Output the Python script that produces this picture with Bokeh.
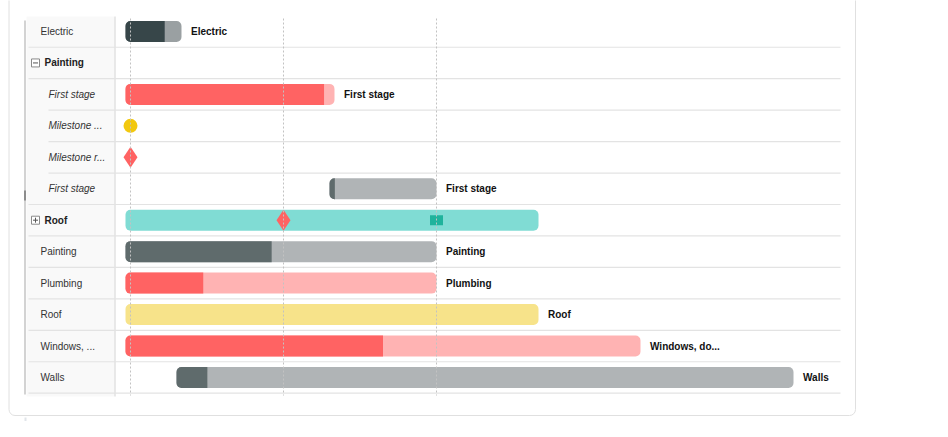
from bokeh.plotting import figure
from bokeh.models import Range1d, ColumnDataSource
from bokeh.core.properties import value
from bokeh.embed import file_html
from bokeh.resources import INLINE

# ---------------- data ----------------
row_names = ["Electric", "Painting", "First stage", "Milestone ...", "Milestone r...",
             "First stage", "Roof", "Painting", "Plumbing", "Roof", "Windows, ...", "Walls"]
row_kind = ["task", "group_open", "child", "child", "child", "child",
            "group_closed", "task", "task", "task", "task", "task"]

task_row = [0, 2, 5, 6, 7, 8, 9, 10, 11]
task_start = [0, 0, 4, 0, 0, 0, 0, 0, 1]
task_end = [1, 4, 6, 8, 6, 6, 8, 10, 13]
task_done = [0.70, 0.95, 0.05, 0.0, 0.47, 0.25, 0.0, 0.50, 0.05]
task_label = ["Electric", "First stage", "First stage", "", "Painting", "Plumbing",
              "Roof", "Windows, do...", "Walls"]
task_color = ["#9aa0a2", "#ffb3b3", "#b0b4b6", "#80dcd4", "#b0b4b6", "#ffb3b3",
              "#f7e38a", "#ffb3b3", "#b0b4b6"]
task_done_color = ["#374649", "#ff6363", "#5f6b6c", "#80dcd4", "#5f6b6c", "#ff6363",
                   "#f7e38a", "#ff6363", "#5f6b6c"]

ms_row = [3, 4, 6, 6]
ms_day = [0, 0, 3, 6]
ms_marker = ["circle", "diamond", "diamond", "square"]
ms_color = ["#f2c80f", "#ff6363", "#ff6363", "#1fb39c"]
ms_size = [14, 21, 21, 11]

tick_days = [0, 3, 6]

# ---------------- geometry helpers ----------------
FIG_W, FIG_H = 932, 421
PX_DAY = 51.0
DAY0_PX = 130.0          # picture x of day 0
ROW_H = 31.45
ROW0_PY = 31.0           # picture y of first row centre


def X(px):
    return (px - DAY0_PX) / PX_DAY


def Y(py):
    return (py - ROW0_PY) / ROW_H


p = figure(width=FIG_W, height=FIG_H, output_backend="svg", toolbar_location=None,
           x_axis_type=None, y_axis_type=None, min_border=0,
           x_range=Range1d(X(0), X(FIG_W)),
           y_range=Range1d(Y(FIG_H), Y(0)))
p.outline_line_color = None
p.background_fill_color = "white"
p.border_fill_color = "white"
p.grid.visible = False

# card
p.quad(left=[X(8.5)], right=[X(855)], top=[Y(-60)], bottom=[Y(415)],
       fill_color="white", line_color="#e0e0e0", line_width=1, border_radius=6)
# line below card
p.segment(x0=[X(25)], y0=[Y(417)], x1=[X(25)], y1=[Y(445)], line_color="#e1e5ea", line_width=2)

# label column
p.quad(left=[X(26)], right=[X(114)], top=[Y(16)], bottom=[Y(396)],
       fill_color="#f9f9f9", line_color=None)
p.segment(x0=[X(24.5)], y0=[Y(20)], x1=[X(24.5)], y1=[Y(394)], line_color="#c4c4c4", line_width=1.5)
p.segment(x0=[X(24.5)], y0=[Y(190)], x1=[X(24.5)], y1=[Y(200)], line_color="#8c8c8c", line_width=2)
p.segment(x0=[X(114.5)], y0=[Y(16)], x1=[X(114.5)], y1=[Y(396)], line_color="#d4d4d4", line_width=1)

# row separators
n = len(row_names)
sx0, sy = [], []
for i in range(n):
    nxt = row_kind[i + 1] if i + 1 < n else "task"
    sx0.append(X(48) if nxt == "child" and row_kind[i] == "child" else X(28))
    sy.append(i + 0.5)
p.segment(x0=sx0, y0=sy, x1=[X(840)] * n, y1=sy, line_color="#e3e3e3", line_width=1.2)

# bars
off = 5.0 / PX_DAY
bh = 21.0 / ROW_H
left = [s - off for s in task_start]
done_r = [l + (e - l) * d for l, e, d in zip(left, task_end, task_done)]
src = ColumnDataSource(dict(y=task_row, left=left, right=task_end, color=task_color,
                            dr=done_r, dcolor=task_done_color,
                            lx=[e + 9.5 / PX_DAY for e in task_end], label=task_label))
p.hbar(y="y", left="left", right="right", height=bh, fill_color="color",
       line_color=None, border_radius=5, source=src)
p.hbar(y="y", left="left", right="dr", height=bh, fill_color="dcolor",
       line_color=None, border_radius=(5, 0, 0, 5), source=src)

# milestones
for r, d, m, c, s in zip(ms_row, ms_day, ms_marker, ms_color, ms_size):
    if m == "square":
        p.rect(x=[d], y=[r], width=13, height=10, width_units="screen", height_units="screen",
               fill_color=c, line_color=None)
    else:
        p.scatter(x=[d], y=[r], marker=m, size=s, fill_color=c, line_color=None)

# dashed day lines on top
p.segment(x0=tick_days, y0=[Y(18)] * len(tick_days), x1=tick_days, y1=[Y(395)] * len(tick_days),
          line_color="#c2c2c2", line_width=1, line_dash="2 2")

# bar labels
p.text(x="lx", y="y", text="label", source=src, text_font=value("Liberation Sans"),
       text_font_size="10px", text_font_style="bold", text_color="#111111",
       text_baseline="middle", text_align="left")

# left labels
for i, (name, kind) in enumerate(zip(row_names, row_kind)):
    if kind == "task":
        p.text(x=[X(40)], y=[i], text=[name], text_font=value("Liberation Sans"),
               text_font_size="10px", text_color="#333333", text_baseline="middle")
    elif kind == "child":
        p.text(x=[X(48)], y=[i], text=[name], text_font=value("Liberation Sans"),
               text_font_size="10px", text_font_style="italic", text_color="#333333",
               text_baseline="middle")
    else:
        p.text(x=[X(44)], y=[i], text=[name], text_font=value("Liberation Sans"),
               text_font_size="10px", text_font_style="bold", text_color="#222222",
               text_baseline="middle")
        p.rect(x=[X(35)], y=[i], width=8, height=8, width_units="screen", height_units="screen",
               fill_color="white", line_color="#8a8a8a", line_width=1)
        p.segment(x0=[X(32.5)], y0=[i], x1=[X(37.5)], y1=[i], line_color="#555555", line_width=1)
        if kind == "group_closed":
            p.segment(x0=[X(35)], y0=[i - 2.5 / ROW_H], x1=[X(35)], y1=[i + 2.5 / ROW_H],
                      line_color="#555555", line_width=1)

open("out.html", "w").write(file_html(p, INLINE))
